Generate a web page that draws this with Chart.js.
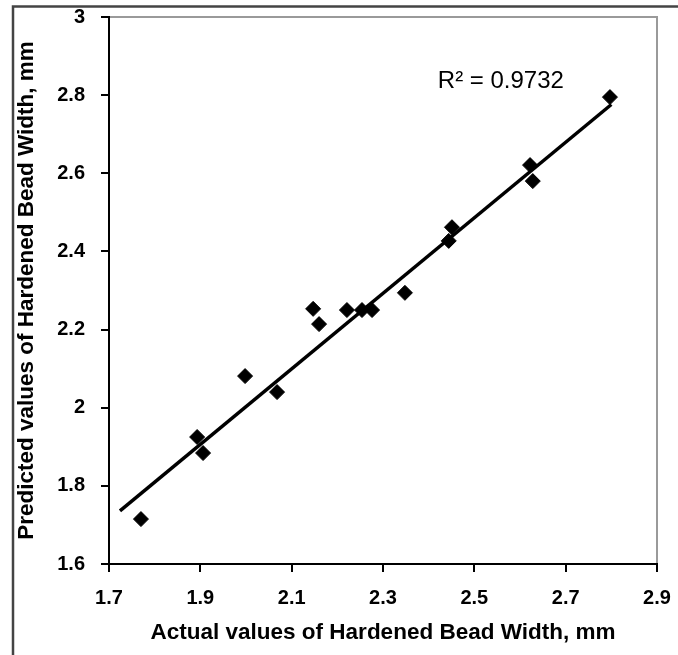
<!DOCTYPE html>
<html>
<head>
<meta charset="utf-8">
<title>Hardened Bead Width</title>
<script src="https://cdn.jsdelivr.net/npm/chart.js@4/dist/chart.umd.min.js"></script>
<style>
  html, body { margin: 0; padding: 0; background: #fff; }
  canvas { display: block; }
</style>
</head>
<body>
<canvas id="chart" width="678" height="655"></canvas>
<script>
// ── Data ──────────────────────────────────────────────────────────────────────
const actualWidth    = [1.770, 1.893, 1.906, 1.998, 2.068, 2.147, 2.160, 2.221, 2.254, 2.276, 2.348, 2.444, 2.451, 2.622, 2.628, 2.797];
const predictedWidth = [1.715, 1.925, 1.884, 2.081, 2.040, 2.253, 2.214, 2.250, 2.250, 2.250, 2.294, 2.427, 2.462, 2.621, 2.580, 2.795];

// linear trendline, ends as drawn
const trendX = [1.724, 2.800];
const trendY = [1.736, 2.776];
const rSquaredLabel = 'R² = 0.9732';

const xTickValues = [1.7, 1.9, 2.1, 2.3, 2.5, 2.7, 2.9];
const xTickLabels = ['1.7', '1.9', '2.1', '2.3', '2.5', '2.7', '2.9'];
const yTickValues = [1.6, 1.8, 2.0, 2.2, 2.4, 2.6, 2.8, 3.0];
const yTickLabels = ['1.6', '1.8', '2', '2.2', '2.4', '2.6', '2.8', '3'];

const xTitle = 'Actual values of Hardened Bead Width, mm';
const yTitle = 'Predicted values of Hardened Bead Width, mm';

// ── Frame, plot-area outline and R² note ─────────────────────────────────────
const framePlugin = {
    id: 'frame',
    beforeDraw(chart) {
        const { ctx, chartArea: a } = chart;
        ctx.save();
        ctx.strokeStyle = '#444';
        ctx.lineWidth = 2.5;
        ctx.beginPath();
        ctx.moveTo(13, 700);
        ctx.lineTo(13, 6.5);
        ctx.lineTo(700, 6.5);
        ctx.stroke();

        ctx.strokeStyle = '#9a9a9a';
        ctx.lineWidth = 2;
        ctx.beginPath();
        ctx.moveTo(a.left, a.top);
        ctx.lineTo(a.right, a.top);
        ctx.lineTo(a.right, a.bottom);
        ctx.stroke();
        ctx.restore();
    },
    afterDraw(chart) {
        const { ctx } = chart;
        const x = chart.scales.x.getPixelForValue(2.42);
        const y = chart.scales.y.getPixelForValue(2.834);
        ctx.save();
        ctx.fillStyle = '#000';
        ctx.font = '24px "Liberation Sans", Arial, sans-serif';
        ctx.textAlign = 'left';
        ctx.textBaseline = 'middle';
        ctx.fillText(rSquaredLabel, x, y);
        ctx.restore();
    }
};

const tickFont  = { family: '"Liberation Sans", Arial, sans-serif', size: 20, weight: 'bold' };
const titleFont = { family: '"Liberation Sans", Arial, sans-serif', size: 22.5, weight: 'bold' };

new Chart(document.getElementById('chart'), {
    type: 'scatter',
    data: {
        datasets: [
            {
                label: 'Predicted',
                data: actualWidth.map((x, i) => ({ x, y: predictedWidth[i] })),
                pointStyle: 'rectRot',
                pointRadius: 7.5,
                pointBackgroundColor: '#000',
                pointBorderColor: '#000',
                pointBorderWidth: 1,
                order: 1
            },
            {
                label: 'Linear',
                type: 'line',
                data: trendX.map((x, i) => ({ x, y: trendY[i] })),
                borderColor: '#000',
                borderWidth: 3.5,
                pointRadius: 0,
                fill: false,
                order: 2
            }
        ]
    },
    options: {
        responsive: false,
        animation: false,
        devicePixelRatio: 1,
        layout: { padding: { left: 0, top: 17, right: 21, bottom: 0 } },
        plugins: { legend: { display: false }, tooltip: { enabled: false } },
        scales: {
            x: {
                type: 'linear',
                min: 1.7, max: 2.9,
                afterFit: s => { s.height = 91; s.paddingLeft = 0; s.paddingRight = 0; },
                afterBuildTicks: s => { s.ticks = xTickValues.map(value => ({ value })); },
                ticks: {
                    color: '#000', font: tickFont, padding: 14, maxRotation: 0,
                    callback: (v, i) => xTickLabels[i]
                },
                grid: { drawOnChartArea: false, drawTicks: true, tickLength: 8, color: '#000', lineWidth: 2 },
                border: { color: '#000', width: 2 },
                title: { display: true, text: xTitle, color: '#000', font: titleFont, padding: { top: 0, bottom: 9 } }
            },
            y: {
                type: 'linear',
                min: 1.6, max: 3,
                afterFit: s => { s.width = 109; s.paddingTop = 0; s.paddingBottom = 0; },
                afterBuildTicks: s => { s.ticks = yTickValues.map(value => ({ value })); },
                ticks: {
                    color: '#000', font: tickFont, padding: 16,
                    callback: (v, i) => yTickLabels[i]
                },
                grid: { drawOnChartArea: false, drawTicks: true, tickLength: 8, color: '#000', lineWidth: 2 },
                border: { color: '#000', width: 2 },
                title: { display: true, text: yTitle, color: '#000', font: titleFont, padding: { top: 13, bottom: 0 } }
            }
        }
    },
    plugins: [framePlugin]
});
</script>
</body>
</html>
